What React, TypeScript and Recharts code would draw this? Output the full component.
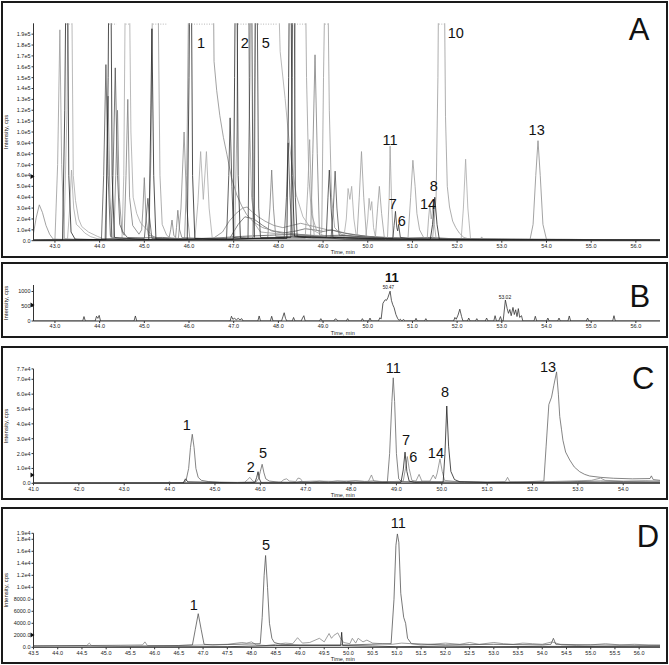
import React from 'react';
import { LineChart, Line, XAxis, YAxis, ReferenceDot } from 'recharts';

const FONT = '"Liberation Sans", Arial, Helvetica, sans-serif';

type Pt = [number, number];

// ---------- panel A : all transitions overlaid ----------
const aXTicks = [43, 44, 45, 46, 47, 48, 49, 50, 51, 52, 53, 54, 55, 56];
const aYTicks = [0, 10000, 20000, 30000, 40000, 50000, 60000, 70000, 80000, 90000, 100000, 110000, 120000, 130000, 140000, 150000, 160000, 170000, 180000, 190000];

const aTrace1: Pt[] = [[42.52, 7000], [42.58, 21000], [42.65, 33000], [42.72, 26000], [42.8, 14000], [42.88, 6000], [42.96, 1500], [43.5, 900], [44.5, 700], [45.76, 800], [45.82, 30000], [45.89, 100000], [45.95, 30000], [46.02, 1500], [47.0, 1000], [48.0, 1500], [49.0, 1200], [50.0, 900], [51.0, 800], [52.0, 700], [53.63, 700], [53.7, 15000], [53.76, 60000], [53.81, 92000], [53.86, 60000], [53.92, 15000], [54.0, 1200], [55.0, 700], [56.54, 600]];
const aTrace2: Pt[] = [[42.52, 500], [43.0, 800], [43.06, 70000], [43.11, 194000], [43.15, 70000], [43.21, 2000], [43.6, 900], [44.5, 800], [47.0, 900], [50.0, 1000], [51.45, 1500], [51.53, 40000], [51.57, 150000], [51.59, 260000], [51.71, 260000], [51.74, 114000], [51.78, 50000], [51.83, 31000], [51.9, 18000], [51.97, 12000], [52.05, 7000], [52.15, 3000], [52.3, 1200], [53.5, 800], [56.54, 700]];
const aTrace3: Pt[] = [[42.52, 300], [43.17, 500], [43.22, 120000], [43.25, 260000], [43.28, 260000], [43.31, 60000], [43.36, 8000], [43.45, 1500], [44.14, 800], [44.19, 150000], [44.21, 260000], [44.25, 260000], [44.28, 60000], [44.33, 3000], [45.1, 800], [45.14, 100000], [45.17, 195000], [45.21, 60000], [45.26, 1500], [45.96, 900], [46.0, 150000], [46.02, 260000], [46.05, 260000], [46.08, 60000], [46.13, 2000], [46.99, 1200], [47.02, 150000], [47.04, 260000], [47.07, 260000], [47.1, 60000], [47.15, 2500], [48.19, 2000], [48.23, 150000], [48.25, 260000], [48.28, 260000], [48.31, 60000], [48.36, 4000], [49.5, 1500], [50.4, 1000], [51.4, 1200], [51.45, 15000], [51.5, 40000], [51.55, 15000], [51.6, 1500], [52.5, 900], [56.54, 500]];
const aTrace4: Pt[] = [[42.52, 400], [43.2, 1000], [43.27, 120000], [43.3, 260000], [43.37, 260000], [43.41, 60000], [43.46, 37000], [43.53, 20000], [43.6, 13000], [43.75, 8000], [43.95, 4000], [44.1, 1500], [44.5, 1000], [44.54, 60000], [44.58, 260000], [44.66, 260000], [44.7, 100000], [44.75, 40000], [44.83, 25000], [44.92, 16000], [45.02, 12000], [45.12, 7000], [45.25, 2000], [45.5, 1000], [47.42, 1500], [47.47, 150000], [47.49, 260000], [47.98, 260000], [48.04, 174000], [48.15, 131000], [48.22, 100000], [48.3, 70000], [48.4, 42000], [48.55, 22000], [48.75, 10000], [49.0, 5000], [49.4, 2500], [50.0, 1500], [56.54, 800]];
const aTrace5: Pt[] = [[42.52, 600], [45.9, 900], [45.95, 60000], [46.0, 260000], [46.54, 260000], [46.56, 165000], [46.62, 138000], [46.69, 115000], [46.77, 95000], [46.85, 79000], [46.95, 58000], [47.07, 42000], [47.18, 32000], [47.29, 24000], [47.45, 17000], [47.65, 12000], [47.9, 9000], [48.2, 7000], [48.6, 5000], [49.2, 3000], [50.0, 1800], [51.0, 1200], [56.54, 800]];
const aTrace6: Pt[] = [[42.52, 300], [43.28, 800], [43.33, 30000], [43.37, 65000], [43.42, 30000], [43.48, 15000], [43.56, 12000], [43.67, 7000], [43.8, 3700], [44.0, 1200], [46.13, 1200], [46.2, 35000], [46.26, 82000], [46.32, 38000], [46.39, 82000], [46.45, 30000], [46.52, 2500], [47.0, 1500], [49.46, 1500], [49.52, 20000], [49.56, 48000], [49.6, 38000], [49.64, 50000], [49.69, 20000], [49.75, 2000], [49.95, 1200], [50.0, 20000], [50.03, 39000], [50.06, 28000], [50.09, 36000], [50.13, 12000], [50.18, 1500], [52.09, 1000], [52.14, 30000], [52.19, 75000], [52.24, 30000], [52.3, 2000], [52.5, 1200], [56.54, 700]];
const aTrace7: Pt[] = [[42.52, 400], [44.04, 800], [44.09, 60000], [44.14, 162000], [44.19, 60000], [44.24, 5000], [44.26, 3000], [44.3, 60000], [44.35, 159000], [44.4, 60000], [44.45, 15000], [44.52, 8000], [44.62, 3000], [45.0, 2000], [45.04, 20000], [45.08, 39000], [45.12, 20000], [45.17, 2000], [46.8, 1500], [48.13, 2500], [48.18, 40000], [48.22, 90000], [48.26, 40000], [48.31, 5000], [49.18, 3000], [49.23, 30000], [49.27, 64000], [49.31, 30000], [49.36, 5000], [50.5, 2000], [51.5, 1500], [56.54, 600]];
const aTrace8: Pt[] = [[42.52, 500], [44.12, 1000], [44.16, 60000], [44.19, 133000], [44.23, 40000], [44.28, 3000], [44.32, 3000], [44.36, 60000], [44.4, 120000], [44.44, 40000], [44.5, 8000], [44.55, 5000], [44.59, 60000], [44.63, 130000], [44.67, 40000], [44.74, 14000], [44.88, 6000], [44.94, 10000], [44.97, 30000], [45.0, 58000], [45.04, 20000], [45.09, 5000], [45.2, 4000], [45.3, 2500], [45.55, 2000], [45.59, 10000], [45.62, 19000], [45.66, 5000], [45.7, 3000], [45.72, 12000], [45.75, 28000], [45.79, 10000], [45.84, 3000], [46.5, 1500], [47.76, 2000], [47.81, 30000], [47.85, 65000], [47.89, 30000], [47.94, 4000], [48.72, 3000], [48.77, 80000], [48.82, 171000], [48.87, 80000], [48.92, 5000], [49.5, 3000], [50.5, 2000], [56.54, 700]];
const aTrace9: Pt[] = [[42.52, 400], [45.1, 1200], [45.15, 80000], [45.19, 260000], [45.3, 260000], [45.35, 60000], [45.4, 15000], [45.5, 5000], [45.6, 2000], [47.02, 2500], [47.07, 100000], [47.1, 260000], [47.32, 260000], [47.35, 120000], [47.4, 40000], [47.48, 15000], [47.6, 8000], [48.32, 5000], [48.36, 100000], [48.39, 260000], [48.6, 260000], [48.63, 150000], [48.68, 60000], [48.74, 25000], [48.85, 10000], [48.97, 7000], [49.01, 150000], [49.05, 260000], [49.1, 260000], [49.14, 120000], [49.19, 40000], [49.26, 12000], [49.4, 6000], [49.76, 3000], [49.81, 40000], [49.86, 82000], [49.91, 40000], [49.97, 4000], [50.17, 2500], [50.22, 30000], [50.26, 50000], [50.31, 25000], [50.37, 3000], [50.9, 2000], [50.96, 40000], [51.01, 74000], [51.06, 50000], [51.1, 25000], [51.16, 10000], [51.25, 3000], [51.4, 1500], [56.54, 800]];
const aTrace10: Pt[] = [[42.52, 300], [46.5, 1000], [46.75, 8000], [46.9, 18000], [47.05, 25000], [47.2, 30000], [47.3, 31000], [47.4, 27000], [47.55, 22000], [47.7, 18000], [47.9, 14000], [48.1, 12000], [48.3, 14000], [48.5, 16000], [48.7, 14000], [48.9, 12000], [49.1, 10000], [49.3, 9000], [49.5, 7000], [49.8, 5000], [50.2, 3000], [50.7, 2000], [51.5, 1200], [56.54, 600]];
const aTrace11: Pt[] = [[42.52, 400], [46.9, 1500], [47.1, 15000], [47.25, 22000], [47.45, 20000], [47.65, 14000], [47.85, 9000], [48.1, 7000], [48.4, 9000], [48.6, 11000], [48.8, 10000], [49.0, 8500], [49.2, 10000], [49.35, 8000], [49.6, 6000], [50.0, 4000], [50.4, 3000], [50.8, 2000], [51.5, 1500], [56.54, 700]];
const aTrace12: Pt[] = [[42.52, 300], [46.84, 1500], [46.89, 60000], [46.92, 113000], [46.96, 50000], [47.0, 3000], [47.32, 2000], [47.36, 150000], [47.37, 260000], [47.4, 260000], [47.43, 40000], [47.46, 3000], [47.49, 260000], [47.52, 260000], [47.56, 30000], [47.6, 3000], [48.28, 3000], [48.31, 150000], [48.32, 260000], [48.35, 260000], [48.38, 40000], [48.42, 4000], [49.07, 3000], [49.11, 40000], [49.14, 65000], [49.18, 30000], [49.22, 3000], [50.56, 2000], [50.59, 14000], [50.62, 27000], [50.65, 12000], [50.67, 9000], [50.69, 15000], [50.73, 3000], [51.0, 1500], [56.54, 500]];
const aTrace13: Pt[] = [[42.52, 300], [48.6, 2000], [48.66, 50000], [48.7, 93000], [48.74, 40000], [48.8, 5000], [50.44, 1500], [50.48, 40000], [50.5, 87000], [50.53, 40000], [50.57, 2000], [51.33, 1500], [51.36, 20000], [51.39, 33000], [51.42, 20000], [51.44, 25000], [51.46, 33000], [51.49, 15000], [51.53, 2000], [52.52, 1500], [52.55, 3500], [52.58, 1500], [56.54, 700]];
const aBase1: Pt[] = [[42.52, 300], [43.5, 800], [44.3, 1500], [44.6, 600], [45.2, 1200], [45.8, 800], [46.3, 1500], [46.8, 900], [47.3, 1800], [47.8, 2500], [48.3, 3500], [48.8, 2500], [49.3, 3000], [49.8, 2200], [50.3, 1800], [50.8, 1500], [51.3, 1200], [51.8, 1000], [52.3, 800], [52.8, 700], [53.3, 600], [54.3, 700], [55.3, 500], [56.54, 600]];
const aBase2: Pt[] = [[42.52, 800], [43.2, 400], [44.0, 1200], [44.8, 2500], [45.4, 3000], [46.0, 1500], [46.6, 2500], [47.2, 4000], [47.8, 5000], [48.4, 6000], [48.9, 4500], [49.4, 5000], [49.9, 3500], [50.4, 3000], [50.9, 2500], [51.4, 3000], [51.9, 1800], [52.5, 1300], [53.2, 1000], [54.5, 1200], [55.5, 900], [56.54, 800]];
// saturated (flat-topped) stretches, drawn dotted along the top
const aSatTops: Pt[] = [[43.25, 43.37], [44.21, 44.38], [44.58, 44.67], [45.19, 45.52], [46.0, 46.54], [47.04, 47.43], [47.49, 47.98], [48.25, 48.62], [49.04, 49.11], [51.59, 51.71]];

// ---------- panel B ----------
const bYTicks = [0, 500, 1000];
const bTrace: Pt[] = [[42.52, 0], [43.62, 0], [43.65, 150], [43.68, 0], [43.9, 0], [43.93, 160], [43.96, 90], [43.99, 190], [44.02, 0], [44.77, 0], [44.8, 170], [44.83, 0], [46.92, 0], [46.95, 160], [46.98, 60], [47.02, 90], [47.06, 40], [47.1, 90], [47.14, 40], [47.18, 80], [47.21, 0], [47.54, 0], [47.57, 170], [47.6, 0], [47.82, 0], [47.85, 160], [47.88, 0], [48.07, 0], [48.1, 140], [48.13, 280], [48.16, 90], [48.19, 0], [48.31, 0], [48.34, 120], [48.37, 0], [48.51, 0], [48.54, 100], [48.57, 180], [48.6, 0], [48.92, 0], [48.95, 80], [48.98, 0], [49.24, 0], [49.27, 70], [49.3, 60], [49.33, 0], [49.52, 0], [49.55, 80], [49.58, 0], [49.85, 0], [49.88, 80], [49.91, 0], [50.02, 0], [50.05, 100], [50.08, 0], [50.24, 0], [50.27, 110], [50.3, 70], [50.34, 600], [50.39, 720], [50.42, 700], [50.45, 790], [50.5, 1010], [50.53, 700], [50.56, 550], [50.59, 450], [50.63, 220], [50.67, 80], [50.7, 20], [50.73, 60], [50.76, 0], [50.8, 50], [50.84, 0], [51.05, 0], [51.08, 90], [51.11, 0], [51.27, 0], [51.3, 80], [51.33, 0], [51.92, 0], [51.95, 120], [51.98, 60], [52.02, 200], [52.06, 400], [52.1, 150], [52.13, 0], [52.23, 0], [52.26, 100], [52.29, 0], [52.41, 0], [52.44, 80], [52.47, 0], [52.63, 0], [52.66, 100], [52.69, 0], [52.82, 0], [52.85, 180], [52.88, 0], [52.93, 0], [52.97, 150], [53.0, 0], [53.03, 0], [53.08, 710], [53.12, 420], [53.15, 260], [53.18, 390], [53.21, 180], [53.25, 460], [53.28, 220], [53.31, 380], [53.34, 150], [53.37, 420], [53.4, 120], [53.44, 180], [53.47, 0], [53.72, 0], [53.75, 160], [53.78, 0], [54.0, 0], [54.03, 100], [54.06, 0], [54.25, 0], [54.28, 100], [54.31, 0], [54.48, 0], [54.51, 170], [54.54, 0], [54.89, 0], [54.92, 100], [54.95, 0], [55.48, 0], [55.51, 180], [55.54, 0], [56.54, 0]];

// ---------- panel C ----------
const cXTicks = [41, 42, 43, 44, 45, 46, 47, 48, 49, 50, 51, 52, 53, 54];
const cYTicks = [0, 10000, 20000, 30000, 40000, 50000, 60000, 70000, 77000];
const cTrace1: Pt[] = [[41, 200], [43.95, 300], [44.0, 900], [44.04, 300], [44.3, 500], [44.36, 1500], [44.42, 10000], [44.46, 24000], [44.5, 33000], [44.54, 24000], [44.58, 10000], [44.63, 4000], [44.7, 2000], [44.85, 1200], [45.1, 800], [45.5, 600], [45.9, 900], [45.96, 3000], [46.0, 8000], [46.04, 12800], [46.08, 7000], [46.12, 3000], [46.2, 1500], [46.4, 800], [47.0, 600], [48.0, 500], [48.8, 700], [48.85, 20000], [48.9, 55000], [48.93, 71000], [48.96, 55000], [49.0, 20000], [49.05, 3000], [49.12, 1000], [50.5, 700], [51.5, 600], [52.25, 1500], [52.3, 25000], [52.36, 53000], [52.42, 58000], [52.47, 66000], [52.53, 75000], [52.57, 60000], [52.6, 45000], [52.64, 36000], [52.67, 29000], [52.73, 21000], [52.82, 15700], [52.92, 11000], [53.04, 7800], [53.15, 6000], [53.26, 4900], [53.5, 4000], [53.78, 3400], [54.2, 3000], [54.59, 3200], [54.62, 5000], [54.66, 2500], [54.81, 2000]];
const cTrace2: Pt[] = [[41, 100], [44.3, 200], [44.35, 3000], [44.4, 1000], [45.5, 300], [45.88, 500], [45.92, 4000], [45.95, 7800], [45.98, 3000], [46.02, 300], [47.5, 400], [49.1, 500], [49.15, 9000], [49.19, 21000], [49.23, 8000], [49.28, 1500], [49.4, 600], [50.03, 800], [50.07, 20000], [50.11, 52000], [50.15, 25000], [50.2, 8000], [50.28, 2500], [50.4, 1000], [51.0, 500], [54.81, 400]];
const cTrace3: Pt[] = [[41, 300], [42.5, 400], [43.5, 300], [44.0, 500], [45.0, 400], [45.65, 600], [45.72, 2500], [45.77, 4000], [45.82, 2000], [45.88, 600], [46.45, 800], [46.52, 2500], [46.58, 3000], [46.64, 1500], [46.78, 1200], [46.83, 3500], [46.88, 3200], [46.93, 1200], [47.2, 1500], [47.6, 1300], [48.0, 1600], [48.38, 1200], [48.45, 5600], [48.5, 1500], [48.8, 1000], [49.15, 1500], [49.2, 10000], [49.24, 18000], [49.28, 10000], [49.34, 2000], [49.43, 1500], [49.5, 6000], [49.56, 1500], [49.74, 1500], [49.81, 5600], [49.86, 3000], [49.9, 7000], [49.96, 16400], [50.01, 8000], [50.06, 2000], [50.3, 1200], [51.0, 1000], [51.4, 1200], [51.45, 4000], [51.5, 1000], [52.0, 800], [53.3, 2000], [53.5, 3500], [53.6, 2000], [54.0, 1500], [54.5, 1800], [54.81, 1500]];
const cNoise: Pt[] = [[41, 0], [46.7, 300], [46.9, 1200], [47.1, 800], [47.3, 1400], [47.5, 1000], [47.7, 1500], [47.9, 1100], [48.1, 1600], [48.3, 1200], [48.5, 1500], [48.7, 1000], [48.9, 1200], [49.3, 800], [49.6, 1000], [50.0, 700], [50.5, 900], [51.0, 600], [51.5, 800], [52.0, 600], [52.5, 900], [53.0, 1200], [53.5, 1500], [54.0, 1200], [54.5, 1000], [54.81, 900]];

// ---------- panel D ----------
const dXTicks = [43.5, 44, 44.5, 45, 45.5, 46, 46.5, 47, 47.5, 48, 48.5, 49, 49.5, 50, 50.5, 51, 51.5, 52, 52.5, 53, 53.5, 54, 54.5, 55, 55.5, 56];
const dYTicks = [0, 2000, 4000, 6000, 8000, 10000, 12000, 14000, 16000, 18000, 19000];
const dPeaks: Pt[] = [[43.5, 200], [44.5, 300], [45.5, 200], [46.5, 300], [46.78, 400], [46.84, 3000], [46.9, 5600], [46.96, 3000], [47.02, 500], [47.2, 400], [47.7, 500], [48.18, 600], [48.22, 5000], [48.26, 12000], [48.29, 15300], [48.33, 10000], [48.37, 4000], [48.42, 1500], [48.47, 800], [48.6, 500], [49.0, 400], [50.0, 400], [50.88, 600], [50.94, 8000], [50.98, 17000], [51.01, 18900], [51.04, 17500], [51.08, 9000], [51.14, 5000], [51.18, 4000], [51.22, 1500], [51.3, 600], [52.0, 400], [53.0, 500], [54.0, 400], [54.18, 500], [54.23, 1500], [54.28, 500], [55.0, 400], [56.43, 300]];
const dGray: Pt[] = [[43.5, 300], [44.6, 300], [44.65, 700], [44.7, 300], [45.3, 350], [45.75, 400], [45.8, 900], [45.85, 300], [46.5, 300], [47.0, 400], [47.5, 500], [47.8, 800], [47.9, 700], [48.0, 900], [48.1, 400], [48.3, 300], [48.5, 500], [48.7, 700], [48.85, 600], [48.95, 1600], [49.05, 700], [49.2, 800], [49.4, 1500], [49.5, 900], [49.6, 2300], [49.65, 1500], [49.7, 2000], [49.78, 2400], [49.83, 1600], [49.9, 800], [50.03, 600], [50.08, 1500], [50.15, 700], [50.2, 1500], [50.3, 900], [50.38, 1200], [50.5, 700], [50.7, 600], [50.9, 500], [51.1, 700], [51.3, 600], [51.5, 400], [51.7, 500], [52.0, 700], [52.3, 500], [52.5, 800], [52.7, 500], [53.0, 800], [53.2, 600], [53.4, 500], [53.6, 700], [53.8, 600], [54.0, 500], [54.2, 900], [54.4, 400], [54.7, 300], [55.0, 400], [55.3, 600], [55.6, 400], [55.9, 500], [56.2, 400], [56.43, 400]];
const dBlack: Pt[] = [[43.5, 0], [47.5, 100], [48.5, 300], [49.84, 300], [49.86, 2500], [49.88, 300], [50.5, 200], [51.0, 100], [52.0, 200], [53.0, 100], [54.0, 150], [56.43, 100]];

interface Trace { pts: Pt[]; color: string; dash?: string }
interface Note { text: string; t: number; v: number; size: number; bold?: boolean }

const aTraces: Trace[] = [
  { pts: aBase2, color: '#555' },
  { pts: aTrace10, color: '#8a8a8a' },
  { pts: aTrace11, color: '#666' },
  { pts: aTrace1, color: '#8c8c8c' },
  { pts: aTrace2, color: '#999' },
  { pts: aTrace4, color: '#a8a8a8' },
  { pts: aTrace5, color: '#8a8a8a' },
  { pts: aTrace6, color: '#aaa' },
  { pts: aTrace8, color: '#7f7f7f' },
  { pts: aTrace9, color: '#9a9a9a' },
  { pts: aTrace13, color: '#a0a0a0' },
  { pts: aTrace7, color: '#555' },
  { pts: aTrace12, color: '#3a3a3a' },
  { pts: aTrace3, color: '#222' },
  { pts: aBase1, color: '#1a1a1a' },
  ...aSatTops.map(([t1, t2]) => ({ pts: [[t1, 199300], [t2, 199300]] as Pt[], color: '#999', dash: '1 1.5' })),
];
const bTraces: Trace[] = [{ pts: bTrace, color: '#333' }];
const cTraces: Trace[] = [
  { pts: cNoise, color: '#444' },
  { pts: cTrace3, color: '#888' },
  { pts: cTrace1, color: '#666' },
  { pts: cTrace2, color: '#222' },
];
const dTraces: Trace[] = [
  { pts: dGray, color: '#888' },
  { pts: dBlack, color: '#222' },
  { pts: dPeaks, color: '#555' },
];

const aNotes: Note[] = [
  { text: '1', t: 46.27, v: 182000, size: 14.5 },
  { text: '2', t: 47.25, v: 182000, size: 14.5 },
  { text: '5', t: 47.72, v: 182000, size: 14.5 },
  { text: '10', t: 51.97, v: 191000, size: 14.5 },
  { text: '11', t: 50.5, v: 92700, size: 14.5 },
  { text: '13', t: 53.78, v: 101900, size: 14.5 },
  { text: '7', t: 50.56, v: 33800, size: 14.5 },
  { text: '6', t: 50.76, v: 18100, size: 14.5 },
  { text: '14', t: 51.35, v: 33800, size: 14.5 },
  { text: '8', t: 51.48, v: 50400, size: 14.5 },
  { text: 'A', t: 56.07, v: 194000, size: 31 },
];
const bNotes: Note[] = [
  { text: '50.47', t: 50.46, v: 1150, size: 4.5 },
  { text: '11', t: 50.54, v: 1490, size: 13, bold: true },
  { text: '53.02', t: 53.07, v: 814, size: 5 },
  { text: 'B', t: 56.09, v: 814, size: 31 },
];
const cNotes: Note[] = [
  { text: '1', t: 44.38, v: 39200, size: 14.5 },
  { text: '2', t: 45.79, v: 11200, size: 14.5 },
  { text: '5', t: 46.06, v: 20200, size: 14.5 },
  { text: '11', t: 48.93, v: 77400, size: 14.5 },
  { text: '13', t: 52.34, v: 78500, size: 14.5 },
  { text: '8', t: 50.07, v: 61600, size: 14.5 },
  { text: '7', t: 49.21, v: 29100, size: 14.5 },
  { text: '6', t: 49.37, v: 17900, size: 14.5 },
  { text: '14', t: 49.87, v: 20200, size: 14.5 },
  { text: 'C', t: 54.44, v: 70700, size: 31 },
];
const dNotes: Note[] = [
  { text: '1', t: 46.81, v: 7050, size: 14.5 },
  { text: '5', t: 48.3, v: 17050, size: 14.5 },
  { text: '11', t: 51.03, v: 20720, size: 14.5 },
  { text: 'D', t: 56.18, v: 18400, size: 31 },
];

const expFmt = (v: number) => (v === 0 ? '0.0' : v.toExponential(1).replace('e+', 'e'));
const dFmt = (v: number) => (v < 10000 ? v.toFixed(1) : expFmt(v));
const rows = (pts: Pt[]) => pts.map(([t, v]) => ({ t, v }));

const tickStyle = { fontSize: 5.5, fill: '#222', fontFamily: FONT };

const yTitle = (props: any) => {
  const vb = props.viewBox;
  const cx = vb.x + 2.8;
  const cy = vb.y + vb.height / 2;
  return (
    <text x={cx} y={cy} transform={`rotate(-90 ${cx} ${cy})`} textAnchor="middle" dominantBaseline="central" fontSize={6} fill="#222" fontFamily={FONT}>
      Intensity, cps
    </text>
  );
};
const xTitle = (props: any) => {
  const vb = props.viewBox;
  return (
    <text x={vb.x + vb.width / 2 - 4} y={vb.y + 11.5} textAnchor="middle" dominantBaseline="central" fontSize={5.5} fill="#222" fontFamily={FONT}>
      Time, min
    </text>
  );
};

interface PanelProps {
  top: number;
  height: number;
  plotTop: number;
  plotBottom: number;
  xDomain: [number, number];
  yDomain: [number, number];
  xTicks: number[];
  yTicks: number[];
  yFmt: (v: number) => string;
  traces: Trace[];
  notes: Note[];
  markerV: number;
}

const Panel: React.FC<PanelProps> = ({ top, height, plotTop, plotBottom, xDomain, yDomain, xTicks, yTicks, yFmt, traces, notes, markerV }) => {
  const margin = { top: plotTop - top, right: 9, bottom: top + height - plotBottom - 12, left: 3.5 };
  return (
    <>
      <div style={{ position: 'absolute', left: 0, top, width: 669, height }}>
        <LineChart width={669} height={height} margin={margin}>
          <XAxis
            type="number"
            dataKey="t"
            domain={xDomain}
            allowDataOverflow
            ticks={xTicks}
            interval={0}
            tickFormatter={(t: number) => t.toFixed(1)}
            height={12}
            tickSize={2}
            tickMargin={1.5}
            tick={tickStyle}
            stroke="#333"
            label={xTitle}
          />
          <YAxis
            type="number"
            dataKey="v"
            domain={yDomain}
            allowDataOverflow
            ticks={yTicks}
            interval={0}
            tickFormatter={yFmt}
            width={30}
            tickSize={2}
            tickMargin={1}
            tick={tickStyle}
            stroke="#333"
            label={yTitle}
          />
          {traces.map((tr, i) => (
            <Line
              key={i}
              data={rows(tr.pts)}
              dataKey="v"
              type="linear"
              stroke={tr.color}
              strokeWidth={0.8}
              strokeDasharray={tr.dash}
              dot={false}
              activeDot={false}
              isAnimationActive={false}
            />
          ))}
          <ReferenceDot
            x={xDomain[0]}
            y={markerV}
            ifOverflow="visible"
            shape={(p: any) => <polygon points={`${p.cx - 3},${p.cy - 2.5} ${p.cx + 1},${p.cy} ${p.cx - 3},${p.cy + 2.5}`} fill="#111" />}
          />
          {notes.map((n, i) => (
            <ReferenceDot
              key={`n${i}`}
              x={n.t}
              y={n.v}
              ifOverflow="visible"
              shape={(p: any) => (
                <text x={p.cx} y={p.cy} textAnchor="middle" dominantBaseline="central" fontSize={n.size} fontWeight={n.bold ? 'bold' : 'normal'} fill="#111" fontFamily={FONT}>
                  {n.text}
                </text>
              )}
            />
          ))}
        </LineChart>
      </div>
      <div style={{ position: 'absolute', left: 1, top, width: 667, height, border: '2px solid #1a1a1a', boxSizing: 'border-box', pointerEvents: 'none' }} />
    </>
  );
};

export default function App() {
  return (
    <div style={{ position: 'absolute', left: 0, top: 0, width: 669, height: 665, background: '#fff', overflow: 'hidden' }}>
      <Panel top={1} height={257} plotTop={23.3} plotBottom={240.7} xDomain={[42.52, 56.54]} yDomain={[0, 200000]} xTicks={aXTicks} yTicks={aYTicks} yFmt={expFmt} traces={aTraces} notes={aNotes} markerV={59000} />
      <Panel top={262} height={76} plotTop={285} plotBottom={321} xDomain={[42.52, 56.54]} yDomain={[0, 1220]} xTicks={aXTicks} yTicks={bYTicks} yFmt={(v) => String(v)} traces={bTraces} notes={bNotes} markerV={540} />
      <Panel top={346} height={154} plotTop={368.9} plotBottom={483.3} xDomain={[41, 54.81]} yDomain={[0, 77000]} xTicks={cXTicks} yTicks={cYTicks} yFmt={expFmt} traces={cTraces} notes={cNotes} markerV={5600} />
      <Panel top={507} height={157} plotTop={533.3} plotBottom={647.3} xDomain={[43.5, 56.43]} yDomain={[0, 19000]} xTicks={dXTicks} yTicks={dYTicks} yFmt={dFmt} traces={dTraces} notes={dNotes} markerV={2050} />
    </div>
  );
}
